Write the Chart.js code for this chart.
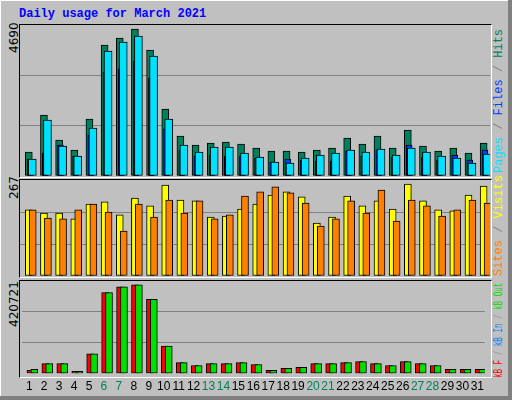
<!DOCTYPE html>
<html><head><meta charset="utf-8">
<script src="https://cdn.jsdelivr.net/npm/chart.js@4"></script>
<style>
body{margin:0;width:512px;height:400px;background:#c0c0c0;position:relative;overflow:hidden;font-family:"DejaVu Sans Mono",monospace}
#frame{position:absolute;left:0;top:0;width:508px;height:396px;border-right:4px solid #808080;border-bottom:4px solid #808080;box-shadow:inset 1px 1px 0 #fff}
.panel{position:absolute;left:19px;width:471px;background:#c0c0c0;border-top:1px solid #000;border-left:1px solid #000;border-right:1px solid #fff;border-bottom:1px solid #fff}
canvas{position:absolute}
.title{position:absolute;left:19px;top:7px;font:bold 12px "Liberation Mono",monospace;color:#0000ff}
.ymax{position:absolute;font:12px "DejaVu Sans",sans-serif;color:#000;transform-origin:left top;transform:rotate(-90deg);white-space:nowrap}
.leg{position:absolute;font:12px "Liberation Mono",monospace;transform-origin:left top;transform:rotate(-90deg);white-space:nowrap;color:#808080}
</style></head><body>
<div id="frame"></div>
<div class="title">Daily usage for March 2021</div>
<div class="panel" style="top:24px;height:152px"></div>
<div class="panel" style="top:179px;height:97px"></div>
<div class="panel" style="top:280px;height:96px"></div>
<div class="ymax" style="left:7px;top:53px">4690</div>
<div class="ymax" style="left:7px;top:199px">267</div>
<div class="ymax" style="left:7px;top:327px">420721</div>
<div class="leg" style="left:492px;top:173px"><span style="color:#00e0ff">Pages</span> / <span style="color:#0040ff">Files</span> / <span style="color:#00805c">Hits</span></div>
<div class="leg" style="left:492px;top:276px"><span style="color:#ff8000">Sites</span> / <span style="color:#ffff00">Visits</span></div>
<div class="leg" style="left:492px;top:378px;transform:rotate(-90deg) scaleX(0.63)"><span style="color:#ff0000">kB F</span> / <span style="color:#0080ff">kB In</span> / <span style="color:#00e000">kB Out</span></div>
<canvas id="c1" style="left:20px;top:25px" width="470" height="151"></canvas>
<canvas id="c2" style="left:20px;top:180px" width="470" height="96"></canvas>
<canvas id="c3" style="left:20px;top:281px" width="470" height="119"></canvas>
<script>
const days=[1,2,3,4,5,6,7,8,9,10,11,12,13,14,15,16,17,18,19,20,21,22,23,24,25,26,27,28,29,30,31];
const weekends=[6,7,13,14,20,21,27,28];
const hits=[745,1895,1118,807,1770,4069,4286,4566,3913,2081,1242,963,1025,1056,994,870,776,776,745,807,870,1180,994,1242,870,1429,932,776,870,714,1025];
const files=[528,1739,932,621,1491,3882,4162,4348,3727,1770,963,745,901,901,714,590,435,404,559,652,714,807,745,839,652,870,745,621,559,404,683];
const pages=[528,714,963,621,1273,3230,3323,3572,3044,1460,807,621,652,621,621,559,435,528,497,466,466,776,621,807,590,963,590,497,652,497,807];
const visits=[184,175,175,159,200,206,170,217,195,253,211,209,164,167,186,200,225,234,220,147,164,222,195,209,186,256,209,184,181,225,250];
const sites=[184,161,159,184,200,178,125,200,164,211,175,209,159,170,222,234,248,231,203,139,159,209,175,239,153,211,195,167,184,211,203];
const kbOut=[19100,45600,45600,10300,89700,367800,394200,403000,336900,125000,50000,36800,45600,45600,50000,41200,14700,23500,28000,45600,45600,50000,54400,45600,36800,54400,45600,36800,19100,19100,19100];
const kbIn=[0,0,0,0,0,0,0,0,0,0,0,0,0,0,0,0,0,0,0,0,0,0,0,0,0,0,0,0,0,0,0];
const kbF=[14700,45600,45600,10300,89700,367800,394200,403000,336900,125000,50000,36800,45600,45600,50000,41200,14700,23500,28000,45600,45600,50000,54400,45600,36800,54400,45600,36800,19100,19100,19100];
const maxes=[4690,267,420721];

function ds(vals,color,dx,w,order){
  return {data:vals.map((v,i)=>({x:days[i]+dx,y:v})),backgroundColor:color,borderColor:'#000',borderWidth:1,barThickness:w,order:order,borderSkipped:false,grouped:false};
}
function make(id,max,datasets,showX){
  new Chart(document.getElementById(id),{type:'bar',data:{datasets},
    options:{responsive:false,animation:false,events:[],layout:{padding:0},
      plugins:{legend:{display:false},tooltip:{enabled:false}},
      scales:{
        x:{type:'linear',min:0.5,max:31.5,offset:false,display:showX,
          grid:{display:false,drawTicks:false},border:{display:false},
          afterBuildTicks:a=>{a.ticks=days.map(d=>({value:d}));},
          ticks:{padding:6,autoSkip:false,maxRotation:0,font:{family:'Liberation Sans',size:12},
            color:c=>weekends.includes(c.tick.value)?'#00805c':'#000'}},
        y:{min:0,max:max,display:true,
          afterBuildTicks:a=>{a.ticks=[0,max/3,2*max/3,max].map(v=>({value:v}));},
          ticks:{display:false},border:{display:false},
          grid:{drawTicks:false,color:c=>(c.index===1||c.index===2)?'#808080':'rgba(0,0,0,0)',lineWidth:1}}
      }}});
}
make('c1',maxes[0],[ds(hits,'#00805c',0.08,7,3),ds(pages,'#0040ff',0.17,6,2),ds(files,'#00e0ff',0.31,8,1)],false);
make('c2',maxes[1],[ds(visits,'#ffff00',0.08,7,2),ds(sites,'#ff8000',0.34,7,1)],false);
make('c3',maxes[2],[ds(kbF,'#ff0000',0.08,7,3),ds(kbIn,'#0080ff',0.2,5,2),ds(kbOut,'#00e000',0.34,7,1)],true);
</script>
</body></html>
